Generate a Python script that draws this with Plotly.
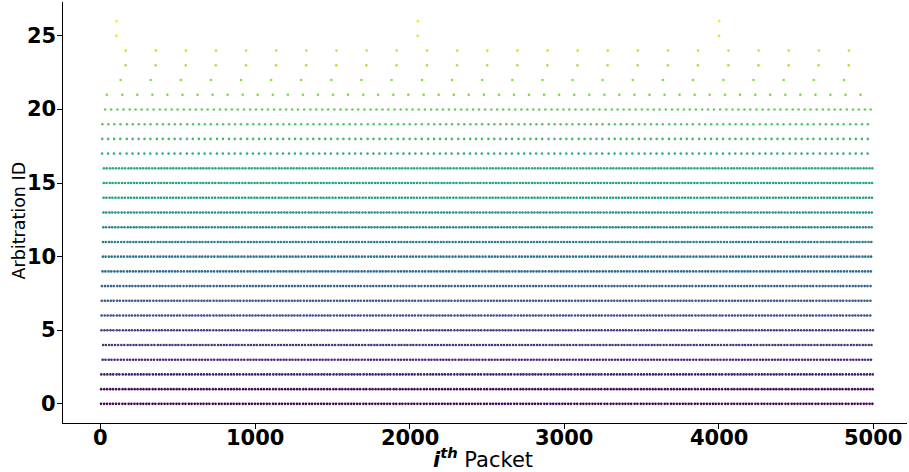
import numpy as np
import plotly.graph_objects as go

# Arbitration IDs on the bus and their broadcast periods (ms)
arb_ids = list(range(27))
period_ms = [10] * 17 + [20] * 4 + [50] + [100] * 3 + [1000] * 2
# phase (ms) of first appearance of each ID, read from first-marker positions
phase_ms = [0, 0, 0.5, 2, 3, 0.5, 0.5, 1, 1, 1.5, 2, 2.5, 3, 3, 3.5, 5.5, 7.5,
            1, 1, 1, 11,
            19,
            61, 80, 80,
            50, 50]
n_packets = 5000

x_ticks = [0, 1000, 2000, 3000, 4000, 5000]
y_ticks = [0, 5, 10, 15, 20, 25]

# Build the packet log: merge each ID's broadcast schedule in time order
events = []
for aid, per, ph in zip(arb_ids, period_ms, phase_ms):
    t = ph
    while t < 3000:
        events.append((t, aid))
        t += per
events.sort()
seq_ids = np.array([e[1] for e in events[:n_packets]])
packet_idx = np.arange(len(seq_ids))

fig = go.Figure()
fig.add_trace(go.Scatter(
    x=packet_idx, y=seq_ids, mode="markers",
    marker=dict(size=2.6, color=seq_ids, colorscale="Viridis", cmin=0, cmax=26,
                line=dict(width=0)),
    showlegend=False, hoverinfo="skip",
))

fig.update_layout(
    width=909, height=472,
    margin=dict(l=63, r=2, t=2, b=49, autoexpand=False),
    paper_bgcolor="white", plot_bgcolor="white",
    font=dict(family="DejaVu Sans", color="black"),
)
fig.update_xaxes(
    range=[-246, 5220], tickvals=x_ticks, showticklabels=False,
    showgrid=False, zeroline=False, showline=True, linecolor="black", linewidth=1.2,
    ticks="outside", ticklen=5, tickcolor="black", tickwidth=1, automargin=False,
)
fig.update_yaxes(
    range=[-1.3, 27.3], tickvals=y_ticks, showticklabels=False,
    showgrid=False, zeroline=False, showline=True, linecolor="black", linewidth=1.2,
    ticks="outside", ticklen=5, tickcolor="black", tickwidth=1, automargin=False,
)
tick_font = dict(size=21, family="DejaVu Sans", color="black")
for v in x_ticks:
    fig.add_annotation(text=f"<b>{v}</b>", xref="x", yref="paper", x=v, y=0,
                       xanchor="center", yanchor="top", yshift=-2, showarrow=False,
                       font=tick_font, borderpad=0)
for v in y_ticks:
    fig.add_annotation(text=f"<b>{v}</b>", xref="paper", yref="y", x=0, y=v,
                       xanchor="right", yanchor="middle", xshift=-6, showarrow=False,
                       font=tick_font, borderpad=0)
fig.add_annotation(
    text="<b><i>i</i></b><sup><b><i>th</i></b></sup> Packet",
    xref="paper", yref="paper", x=0.5, y=0,
    xanchor="center", yanchor="top", yshift=-20, xshift=-2, showarrow=False,
    font=dict(size=21, family="DejaVu Sans", color="black"), borderpad=0,
)
fig.add_annotation(
    text="Arbitration ID",
    xref="paper", yref="paper", x=0, y=0.5, textangle=-90,
    xanchor="center", yanchor="middle", xshift=-45, yshift=-8, showarrow=False,
    font=dict(size=17.5, family="DejaVu Sans", color="black"),
)

fig.write_html("out.html", post_script="document.body.style.margin='0';",
               config={"displayModeBar": False})
